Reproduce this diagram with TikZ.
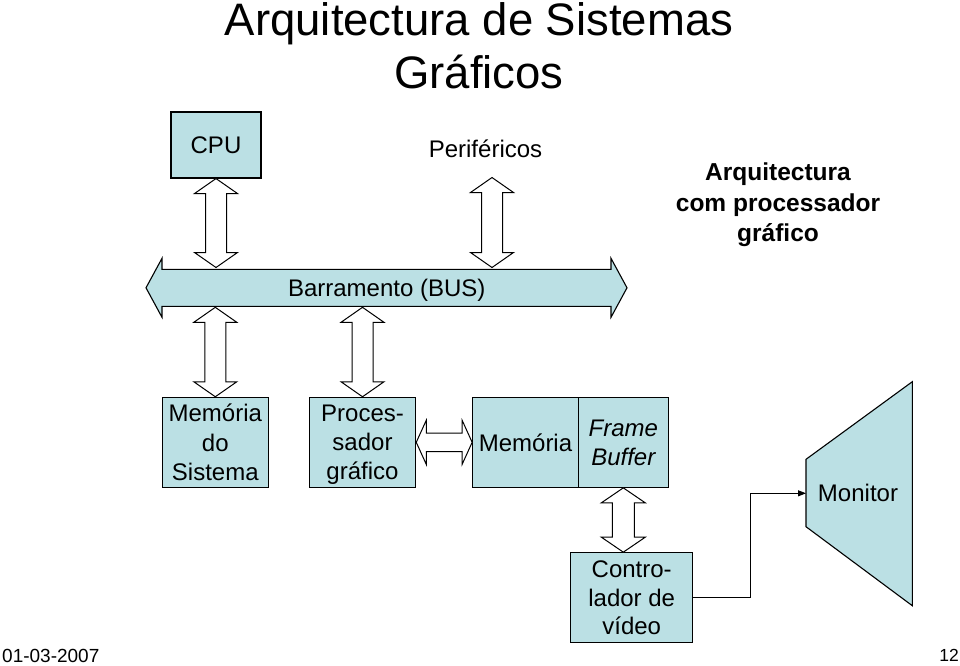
\documentclass[tikz,border=0pt]{standalone}
\usepackage{fontspec}
\setmainfont{Liberation Sans}
\usetikzlibrary{arrows.meta,calc}
\definecolor{boxfill}{RGB}{187,224,228}
\newcommand\bs{\rule[-4.2pt]{0pt}{25.8pt}}
\tikzset{
  box/.style={draw=black,line width=1.1pt,fill=boxfill,inner sep=0pt,align=center,
    font=\fontsize{24}{29.3}\selectfont},
  blk/.style={draw=black,line width=1pt,fill=white,line join=miter},
  busarrow/.style={draw=black,line width=1.1pt,fill=boxfill,line join=miter},
  txt/.style={inner sep=0pt,font=\fontsize{24}{29.3}\selectfont},
  conn/.style={draw=black,line width=1pt,-{Triangle[length=8pt,width=6pt]}}
}
% vertical double block arrow: top tip, bottom tip, head half width, shaft half width, head length
\newcommand\vdarr[6][blk]{%
  \path[#1] let \p1=(#2), \p2=(#3) in
    (\x1,\y1) -- (\x1+#4pt,\y1-#6pt) -- (\x1+#5pt,\y1-#6pt) -- (\x1+#5pt,\y2+#6pt)
    -- (\x1+#4pt,\y2+#6pt) -- (\x1,\y2) -- (\x1-#4pt,\y2+#6pt) -- (\x1-#5pt,\y2+#6pt)
    -- (\x1-#5pt,\y1-#6pt) -- (\x1-#4pt,\y1-#6pt) -- cycle;}
% horizontal double block arrow: left tip, right tip, head half height, shaft half height, head length
\newcommand\hdarr[6][blk]{%
  \path[#1] let \p1=(#2), \p2=(#3) in
    (\x1,\y1) -- (\x1+#6pt,\y1+#4pt) -- (\x1+#6pt,\y1+#5pt) -- (\x2-#6pt,\y1+#5pt)
    -- (\x2-#6pt,\y1+#4pt) -- (\x2,\y1) -- (\x2-#6pt,\y1-#4pt) -- (\x2-#6pt,\y1-#5pt)
    -- (\x1+#6pt,\y1-#5pt) -- (\x1+#6pt,\y1-#4pt) -- cycle;}
\begin{document}
\begin{tikzpicture}[x=1pt,y=-1pt]
\useasboundingbox (0,0) rectangle (960,665);

% title
\node[txt,align=center,font=\fontsize{45.5}{53}\selectfont] (title) at (479,45.5)
  {Arquitectura de Sistemas\\Gráficos};

% CPU and peripherals
\node[box,minimum width=90pt,minimum height=66pt] (cpu) at (216,145) {\bs CPU};
\node[txt,anchor=base] (perif) at (485.5,157.3) {Periféricos};

\node[txt,align=center,font=\bfseries\fontsize{24.5}{30.5}\selectfont] (arqtxt) at (778,205)
  {Arquitectura\\com processador\\gráfico};

% bus
\coordinate (busL) at (146,287.8);
\coordinate (busR) at (627,287.8);
\hdarr[busarrow]{busL}{busR}{29.5}{18.5}{16}
\node[txt,anchor=base] (bustxt) at (386.7,296.7) {Barramento (BUS)};

% lower boxes
\node[box,minimum width=106pt,minimum height=90pt] (memsys) at (215.3,442.3)
  {\bs Memória\\\bs do\\\bs Sistema};
\node[box,minimum width=106.4pt,minimum height=90pt] (proc) at (362.5,442.3)
  {\bs Proces-\\\bs sador\\\bs gráfico};
\node[box,minimum width=105.6pt,minimum height=90pt] (mem) at (525.5,442.3) {\bs Memória};
\node[box,minimum width=90pt,minimum height=90pt,
  font=\itshape\fontsize{24}{29.3}\selectfont] (fb) at (623.3,442.3) {\bs Frame\\\bs Buffer};
\node[box,minimum width=122pt,minimum height=90pt,
  font=\fontsize{24}{28.5}\selectfont] (ctrl) at (631.7,597.7)
  {\bs Contro-\\\bs lador de\\\bs vídeo};

% block arrows
\coordinate (cpuB) at (216,267.5);
\vdarr{cpu.south}{cpuB}{21.5}{10.5}{15}
\coordinate (perT) at (492,177.5);
\coordinate (perB) at (492,267.5);
\vdarr{perT}{perB}{21.5}{10.5}{15}
\coordinate (msT) at (215.3,307.3);
\vdarr{msT}{memsys.north}{21.5}{10.5}{15}
\coordinate (prT) at (362.5,307.3);
\vdarr{prT}{proc.north}{21.5}{10.5}{15}
\hdarr{proc.east}{mem.west}{22}{9.2}{10}
\vdarr{fb.south}{fb.south |- ctrl.north}{22}{11}{15}

% monitor
\draw[line width=1.1pt,fill=boxfill,line join=miter]
  (806,459.3) -- (912.3,381.7) -- (912.3,605.7) -- (806,526.7) -- cycle;
\node[txt,anchor=base] (monitor) at (858,501.7) {Monitor};
\coordinate (monL) at (806,493.3);
\coordinate (bend) at (750,493.3);
\draw[conn] (ctrl.east) -- (ctrl.east -| bend) -- (bend) -- (monL);

% footer
\node[inner sep=0pt,anchor=base west,font=\fontsize{19}{21}\selectfont] (date) at (2,662) {01-03-2007};
\node[inner sep=0pt,anchor=base east,font=\fontsize{17.5}{20}\selectfont] (page) at (959,661) {12};
\end{tikzpicture}
\end{document}
